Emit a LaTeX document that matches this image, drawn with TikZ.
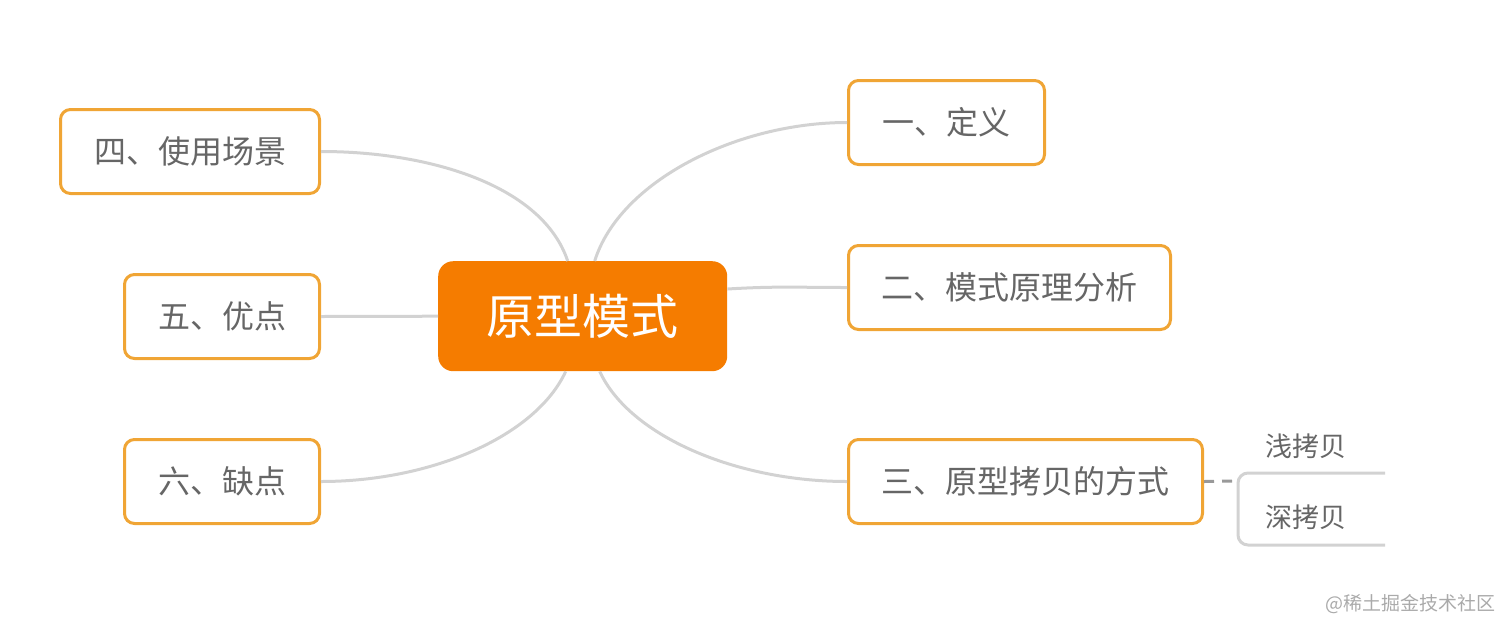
\documentclass[tikz,border=0pt]{standalone}
\usepackage{fontspec}
\setmainfont{Noto Sans CJK SC}
\definecolor{orfill}{HTML}{F57C00}
\definecolor{orline}{HTML}{F0A535}
\definecolor{txt}{HTML}{666666}
\definecolor{conn}{HTML}{D2D2D2}
\definecolor{wm}{HTML}{AAAAAA}
\begin{document}
\begin{tikzpicture}[x=1pt,y=-1pt,
  topic/.style={draw=orline,line width=3pt,rounded corners=10pt,fill=white,text=txt,font=\fontsize{32}{36}\selectfont,inner sep=0pt,anchor=north west},
  sub/.style={text=txt,font=\fontsize{27}{30}\selectfont,inner sep=0pt},
  link/.style={draw=conn,line width=3pt}]
\useasboundingbox (0,0) rectangle (1512,633);
\node[fill=orfill,rounded corners=15pt,minimum width=289pt,minimum height=110pt,text=white,font=\fontsize{48}{52}\selectfont,inner sep=0pt,anchor=north west] (c) at (438,261) {原型模式};
\node[topic,minimum width=196pt,minimum height=84pt] (t1) at (847,79) {一、定义};
\node[topic,minimum width=322pt,minimum height=84pt] (t2) at (847,244) {二、模式原理分析};
\node[topic,minimum width=354pt,minimum height=84pt] (t3) at (847,438) {三、原型拷贝的方式};
\node[topic,minimum width=259pt,minimum height=84pt] (t4) at (59,108) {四、使用场景};
\node[topic,minimum width=195pt,minimum height=84pt] (t5) at (123,273) {五、优点};
\node[topic,minimum width=195pt,minimum height=84pt] (t6) at (123,438) {六、缺点};
\path[link] ([xshift=12pt]c.north) .. controls +(25,-80) and +(-110,0) .. (t1.west);
\path[link] (c.east|-0,289) .. controls +(50,-3) and +(-50,0) .. (t2.west);
\path[link] ([xshift=17pt]c.south) .. controls +(30,65) and +(-110,0) .. (t3.west);
\path[link] ([xshift=-15pt]c.north) .. controls +(-25,-75) and +(110,0) .. (t4.east);
\path[link] (c.west) -- (t5.east);
\path[link] ([xshift=-17pt]c.south) .. controls +(-30,65) and +(110,0) .. (t6.east);
\coordinate (br) at (1238,481);
\coordinate (bt) at (1385,473);
\coordinate (bb) at (1385,545);
\draw[draw=gray!80,line width=3pt,dash pattern=on 10pt off 8pt] (t3.east) -- (br);
\draw[conn,line width=3pt,rounded corners=10pt] (bt) -- (bt-|br) -- (bb-|br) -- (bb);
\node[sub] (s1) at (1306,446) {浅拷贝};
\node[sub] (s2) at (1306,517) {深拷贝};
\node[text=wm,font=\fontsize{19}{22}\selectfont,inner sep=0pt] (w) at (1410,604) {@稀土掘金技术社区};
\end{tikzpicture}
\end{document}
